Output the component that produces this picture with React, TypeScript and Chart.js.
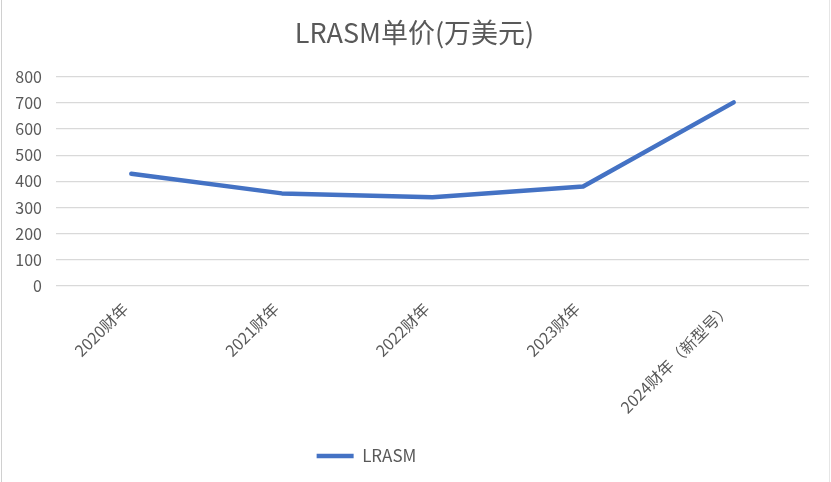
import React, { useEffect, useRef } from "react";
import { Chart, registerables } from "chart.js";

Chart.register(...registerables);

const categories = ["2020财年", "2021财年", "2022财年", "2023财年", "2024财年（新型号）"];
const seriesName = "LRASM";
const values = [429, 354, 339, 380, 702];
const titleText = "LRASM单价(万美元)";

const FONT = "'Noto Sans CJK SC', 'Noto Sans', sans-serif";
const TEXT = "#595959";
const GRID = "#D9D9D9";
const BLUE = "#4472C4";

const borderPlugin = {
  id: "frameBorder",
  afterLayout(chart: any) {
    const lg = chart.legend;
    if (lg) {
      lg.left -= 38;
      lg.right -= 38;
    }
    const tb = chart.titleBlock;
    if (tb) {
      tb.left += 10;
      tb.right += 10;
    }
  },
  afterDraw(chart: any) {
    const ctx = chart.ctx;
    ctx.save();
    ctx.strokeStyle = "#D0D0D0";
    ctx.lineWidth = 1;
    ctx.beginPath();
    ctx.moveTo(1.5, 0);
    ctx.lineTo(1.5, chart.height);
    ctx.stroke();
    ctx.strokeStyle = "#E6E6E6";
    ctx.beginPath();
    ctx.moveTo(829.5, 0);
    ctx.lineTo(829.5, chart.height);
    ctx.stroke();
    ctx.restore();
  },
};

export default function App() {
  const ref = useRef<HTMLCanvasElement | null>(null);
  useEffect(() => {
    if (!ref.current) return;
    const chart = new Chart(ref.current, {
      type: "line",
      data: {
        labels: categories,
        datasets: [
          {
            label: seriesName,
            data: values,
            borderColor: BLUE,
            backgroundColor: BLUE,
            borderWidth: 4.5,
            pointRadius: 0,
            pointHoverRadius: 0,
            tension: 0,
            borderCapStyle: "round",
            borderJoinStyle: "round",
          },
        ],
      },
      options: {
        responsive: false,
        animation: false,
        devicePixelRatio: 1,
        layout: { padding: { left: 0, right: 22, top: 0, bottom: 7.5 } },
        plugins: {
          title: {
            display: true,
            text: titleText,
            color: TEXT,
            font: { family: FONT, size: 27, weight: "normal" },
            padding: { top: 16.8, bottom: 27.5 },
          },
          legend: {
            display: true,
            position: "bottom",
            labels: {
              color: TEXT,
              font: { family: FONT, size: 17 },
              usePointStyle: true,
              pointStyle: "line",
              pointStyleWidth: 37,
              boxHeight: 16,
              padding: 10,
            },
          },
          tooltip: { enabled: false },
        },
        scales: {
          x: {
            offset: true,
            grid: { display: false, drawTicks: false },
            border: { display: false },
            ticks: {
              color: TEXT,
              font: { family: FONT, size: 16 },
              minRotation: 45,
              maxRotation: 45,
              padding: 13,
              labelOffset: -6,
              autoSkip: false,
            },
            afterFit(scale: any) {
              scale.height = 151.5;
            },
          },
          y: {
            min: 0,
            max: 800,
            grid: { color: GRID, lineWidth: 1.3, drawTicks: false },
            border: { display: false },
            ticks: {
              stepSize: 100,
              color: TEXT,
              font: { family: FONT, size: 16 },
              padding: 14,
            },
            afterFit(scale: any) {
              scale.width = 56;
            },
          },
        },
      },
      plugins: [borderPlugin],
    });
    return () => chart.destroy();
  }, []);
  return (
    <div style={{ position: "absolute", left: 0, top: 0, width: 831, height: 482, background: "#fff" }}>
      <canvas ref={ref} width={831} height={482} style={{ display: "block" }} />
    </div>
  );
}
